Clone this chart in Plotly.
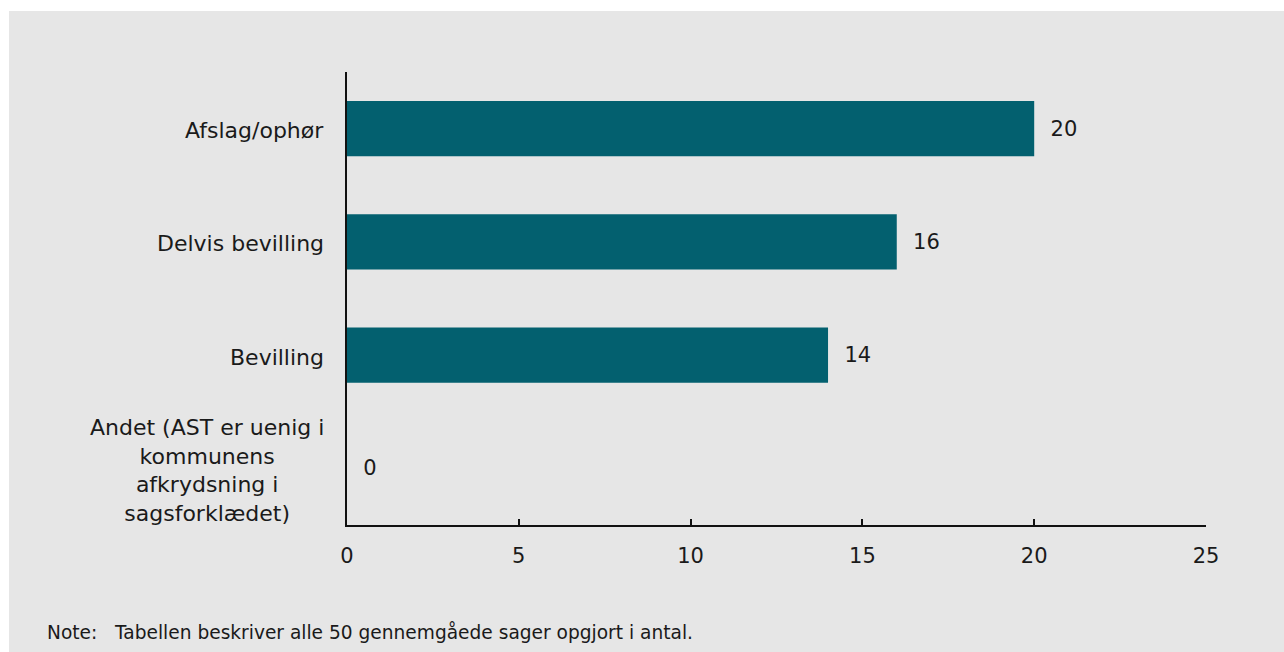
import plotly.graph_objects as go

categories = ["Afslag/ophør", "Delvis bevilling", "Bevilling",
              "Andet (AST er uenig i<br>kommunens<br>afkrydsning i<br>sagsforklædet)"]
values = [20, 16, 14, 0]
x_ticks = [0, 5, 10, 15, 20, 25]
note = "Note:\u00a0\u00a0 Tabellen beskriver alle 50 gennemgåede sager opgjort i antal."

FONT = "DejaVu Sans"
TXT = "#1a1a1a"
FS = 22

fig = go.Figure()
fig.add_trace(go.Bar(
    y=categories, x=values, orientation="h",
    marker=dict(color="#03606f", line=dict(width=0)),
    width=0.49,
    text=["\u00a0\u00a0" + str(v) for v in values], textposition="outside",
    textfont=dict(family=FONT, size=FS - 1, color=TXT),
    cliponaxis=False,
))

L, R, T, B = 347, 78, 72, 127
W, H = 1284, 652
pw, ph = W - L - R, H - T - B

shapes = [dict(type="rect", xref="paper", yref="paper", layer="below",
               x0=(9 - L) / pw, x1=(W + 20 - L) / pw,
               y0=-(B + 20) / ph, y1=(H - B - 11) / ph,
               fillcolor="#e6e6e6", line=dict(width=0))]

annotations = [dict(xref="paper", yref="y", x=0, y=c, text=c, showarrow=False,
                    xanchor="right", xshift=-21, yshift=-2, align="center",
                    font=dict(family=FONT, size=FS, color=TXT))
               for c in categories]
annotations.append(dict(xref="paper", yref="paper", x=(45 - L) / pw,
                        y=(H - B - 632) / ph, text=note, showarrow=False,
                        xanchor="left", yanchor="middle", align="left",
                        font=dict(family=FONT, size=18.6, color=TXT)))

fig.update_layout(
    width=W, height=H,
    margin=dict(l=L, r=R, t=T, b=B),
    paper_bgcolor="white", plot_bgcolor="rgba(0,0,0,0)",
    showlegend=False,
    shapes=shapes, annotations=annotations,
    xaxis=dict(range=[0, 25], tickvals=x_ticks, ticks="inside", ticklen=6,
               tickcolor="#111", tickwidth=1.5, showgrid=False, zeroline=False,
               showline=True, linecolor="#111", linewidth=1.5,
               tickfont=dict(family=FONT, size=FS - 1, color=TXT),
               ticklabelstandoff=11),
    yaxis=dict(categoryorder="array", categoryarray=categories,
               range=[3.5, -0.5], showticklabels=False, ticks="", showgrid=False,
               zeroline=False, showline=True, linecolor="#111", linewidth=1.5),
)

fig.write_html("out.html", config={"displayModeBar": False},
               post_script="document.body.style.margin='0';document.body.style.overflow='hidden';")
